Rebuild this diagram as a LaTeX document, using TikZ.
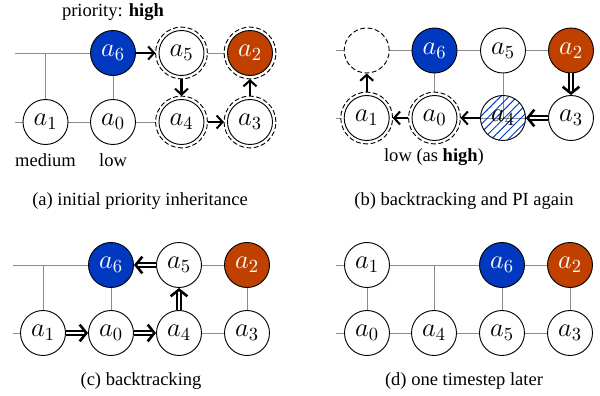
\documentclass[tikz,border=0pt]{standalone}
\usepackage{fontspec}
\setmainfont{Liberation Serif}
\usetikzlibrary{arrows.meta,backgrounds,patterns.meta}

\definecolor{hiblue}{RGB}{0,56,192}
\definecolor{hired}{RGB}{192,64,0}

\tikzset{
  agent/.style={circle, draw, line width=0.5pt, minimum size=24.3pt, inner sep=0pt, fill=white, font=\Large},
  ringed/.style={agent, outer sep=1.9pt},
  ring/.style={circle, draw, line width=0.5pt, dash pattern=on 2.6pt off 1.4pt, minimum size=28pt, inner sep=0pt},
  high/.style={fill=hiblue, text=white},
  low/.style={fill=hired, text=white},
  wire/.style={draw=black!45, line width=0.5pt},
  push/.style={-{Straight Barb[length=3.2pt,width=7pt]}, line width=1.1pt},
  retreat/.style={double, double distance=1.4pt, line width=0.7pt, -{Straight Barb[length=3.6pt,width=9pt,line width=1.4pt]}},
  caption/.style={font=\normalsize}
}

\begin{document}
\begin{tikzpicture}[x=0.54pt, y=-0.54pt]
            \useasboundingbox (0,0) rectangle (600,396);

            % (a) initial priority inheritance
            \node[agent] at (45.5,122) (pa1) {$a_1$};
            \node[agent] at (113,122) (pa0) {$a_0$};
            \node[agent, high] at (113,53) (pa6) {$a_6$};
            \node[ringed] at (181.5,53) (pa5) {$a_5$};
            \node[ringed, low] at (250,53) (pa2) {$a_2$};
            \node[ringed] at (181.5,122) (pa4) {$a_4$};
            \node[ringed] at (250,122) (pa3) {$a_3$};
            \node[ring] at (pa5) (ra5) {};
            \node[ring] at (pa2) (ra2) {};
            \node[ring] at (pa4) (ra4) {};
            \node[ring] at (pa3) (ra3) {};
            \coordinate (sa1) at (15,53);
            \coordinate (sa2) at (15,122);
            \coordinate (ja1) at (45.5,53);
            \begin{scope}[on background layer]
              \draw[wire] (sa1) -- (pa6);
              \draw[wire] (ja1) -- (pa1);
              \draw[wire] (pa6) -- (pa0);
              \draw[wire] (sa2) -- (pa1) -- (pa0) -- (pa4);
              \draw[wire] (pa5) -- (pa2);
            \end{scope}
            \draw[push] (pa6) -- (pa5);
            \draw[push] (pa5) -- (pa4);
            \draw[push] (pa4) -- (pa3);
            \draw[push] (pa3) -- (pa2);
            \node at (113,12) (ta1) {priority: \textbf{high}};
            \node at (45.5,160) (ta2) {medium};
            \node at (113,160) (ta3) {low};
            \node[caption] at (140,201) (capa) {(a) initial priority inheritance};

            % (b) backtracking and PI again
            \node[agent, dash pattern=on 2.6pt off 1.4pt] at (366.7,50.5) (pbx) {};
            \node[agent, high] at (434.5,50.5) (pb6) {$a_6$};
            \node[agent] at (503,50.5) (pb5) {$a_5$};
            \node[agent, low] at (571,50.5) (pb2) {$a_2$};
            \node[ringed] at (366.7,118) (pb1) {$a_1$};
            \node[ringed] at (434.5,118) (pb0) {$a_0$};
            \node[agent, fill=none, pattern={Lines[angle=45,distance=3.2pt,line width=0.5pt]}, pattern color=hiblue] at (503,118) (pb4) {$a_4$};
            \node[agent] at (571,118) (pb3) {$a_3$};
            \node[ring] at (pb1) (rb1) {};
            \node[ring] at (pb0) (rb0) {};
            \coordinate (sb1) at (336,50.5);
            \coordinate (sb2) at (336,118);
            \begin{scope}[on background layer]
              \draw[wire] (sb1) -- (pbx) -- (pb6) -- (pb5) -- (pb2);
              \draw[wire] (pb6) -- (pb0);
              \draw[wire] (pb5.center) -- (pb4.center);
              \draw[wire] (sb2) -- (pb1);
              \draw[wire] (pb0) -- (pb3);
            \end{scope}
            \draw[retreat] (pb2) -- (pb3);
            \draw[retreat] (pb3) -- (pb4);
            \draw[push] (pb4) -- (pb0);
            \draw[push] (pb0) -- (pb1);
            \draw[push] (pb1) -- (pbx);
            \node at (434,157) (tb1) {low (as \textbf{high})};
            \node[caption] at (464,201) (capb) {(b) backtracking and PI again};

            % (c) backtracking
            \node[agent] at (43,333) (pc1) {$a_1$};
            \node[agent] at (111,333) (pc0) {$a_0$};
            \node[agent] at (179,333) (pc4) {$a_4$};
            \node[agent] at (247,333) (pc3) {$a_3$};
            \node[agent, high] at (111,265) (pc6) {$a_6$};
            \node[agent] at (179,265) (pc5) {$a_5$};
            \node[agent, low] at (247,265) (pc2) {$a_2$};
            \coordinate (sc1) at (13,265);
            \coordinate (sc2) at (13,333);
            \coordinate (jc1) at (43,265);
            \begin{scope}[on background layer]
              \draw[wire] (sc1) -- (pc6);
              \draw[wire] (jc1) -- (pc1);
              \draw[wire] (pc6) -- (pc0);
              \draw[wire] (pc5) -- (pc2) -- (pc3);
              \draw[wire] (sc2) -- (pc1);
              \draw[wire] (pc4) -- (pc3);
            \end{scope}
            \draw[retreat] (pc1) -- (pc0);
            \draw[retreat] (pc0) -- (pc4);
            \draw[retreat] (pc4) -- (pc5);
            \draw[retreat] (pc5) -- (pc6);
            \node[caption] at (141,381.5) (capc) {(c) backtracking};

            % (d) one timestep later
            \node[agent] at (367,265) (pd1) {$a_1$};
            \node[agent, high] at (502,265) (pd6) {$a_6$};
            \node[agent, low] at (570,265) (pd2) {$a_2$};
            \node[agent] at (367,333) (pd0) {$a_0$};
            \node[agent] at (434,333) (pd4) {$a_4$};
            \node[agent] at (502,333) (pd5) {$a_5$};
            \node[agent] at (570,333) (pd3) {$a_3$};
            \coordinate (sd1) at (336,265);
            \coordinate (sd2) at (336,333);
            \coordinate (jd1) at (434,265);
            \begin{scope}[on background layer]
              \draw[wire] (sd1) -- (pd1) -- (pd6) -- (pd2);
              \draw[wire] (jd1) -- (pd4);
              \draw[wire] (pd1) -- (pd0);
              \draw[wire] (pd6) -- (pd5);
              \draw[wire] (pd2) -- (pd3);
              \draw[wire] (sd2) -- (pd0) -- (pd4) -- (pd5) -- (pd3);
            \end{scope}
            \node[caption] at (464,381.5) (capd) {(d) one timestep later};
        \end{tikzpicture}
\end{document}
